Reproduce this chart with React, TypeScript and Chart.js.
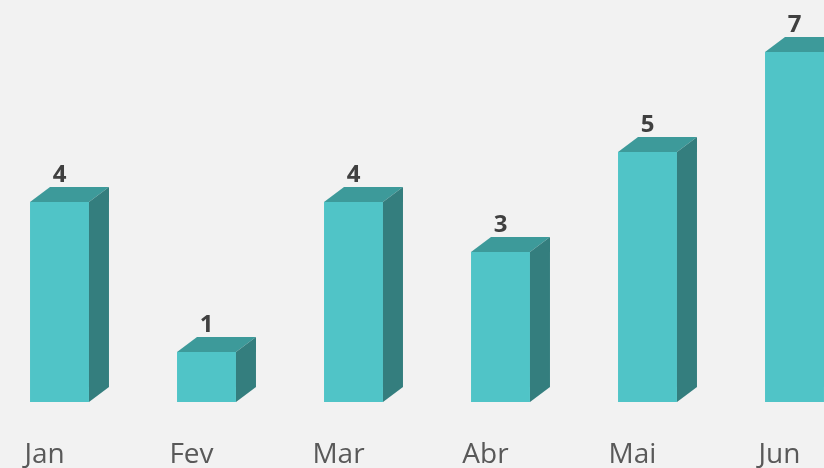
import React, { useEffect, useRef } from "react";
import { Chart, registerables } from "chart.js";

Chart.register(...registerables);

const categories = ["Jan", "Fev", "Mar", "Abr", "Mai", "Jun"];
const values = [4, 1, 4, 3, 5, 7];

const FRONT = "#50c4c7";
const TOP = "#3d9a9a";
const SIDE = "#347e7e";
const DX = 20;
const DY = 15;

const bars3d = {
  id: "bars3d",
  afterDatasetsDraw(chart: any) {
    const ctx = chart.ctx;
    const meta = chart.getDatasetMeta(0);
    ctx.save();
    meta.data.forEach((el: any, i: number) => {
      const { x, y, base, width } = el.getProps(["x", "y", "base", "width"], true);
      const l = x - width / 2;
      const r = x + width / 2;
      // top face
      ctx.fillStyle = TOP;
      ctx.beginPath();
      ctx.moveTo(l, y);
      ctx.lineTo(l + DX, y - DY);
      ctx.lineTo(r + DX, y - DY);
      ctx.lineTo(r, y);
      ctx.closePath();
      ctx.fill();
      // side face
      ctx.fillStyle = SIDE;
      ctx.beginPath();
      ctx.moveTo(r, y);
      ctx.lineTo(r + DX, y - DY);
      ctx.lineTo(r + DX, base - DY);
      ctx.lineTo(r, base);
      ctx.closePath();
      ctx.fill();
      // label
      ctx.fillStyle = "#404040";
      ctx.font = "bold 24px 'Open Sans'";
      ctx.textAlign = "center";
      ctx.textBaseline = "alphabetic";
      ctx.fillText(String(values[i]), x, y - DY - 5);
    });
    ctx.restore();
  },
};

export default function App() {
  const ref = useRef<HTMLCanvasElement>(null);
  useEffect(() => {
    if (!ref.current) return;
    const chart = new Chart(ref.current, {
      type: "bar",
      data: {
        labels: categories,
        datasets: [
          {
            data: values,
            backgroundColor: FRONT,
            borderWidth: 0,
            categoryPercentage: 1,
            barPercentage: 0.401,
          },
        ],
      },
      options: {
        animation: false,
        responsive: false,
        devicePixelRatio: 1,
        layout: { padding: { left: 26, right: 52, top: 2, bottom: 0 } },
        plugins: { legend: { display: false }, tooltip: { enabled: false } },
        scales: {
          x: {
            grid: { display: false, drawTicks: false },
            border: { display: false },
            ticks: {
              color: "#595959",
              font: { family: "'Open Sans'", size: 28 },
              labelOffset: -15,
              padding: 36,
            },
            afterFit: (s: any) => {
              s.height = 66;
            },
          },
          y: {
            display: false,
            min: 0,
            max: 8,
          },
        },
      },
      plugins: [bars3d],
    });
    return () => chart.destroy();
  }, []);
  return (
    <div
      style={{
        position: "fixed",
        left: 0,
        top: 0,
        width: 824,
        height: 468,
        overflow: "hidden",
        background: "#f2f2f2",
      }}
    >
      <canvas
        ref={ref}
        width={960}
        height={468}
        style={{ position: "absolute", left: -40, top: 0, width: 960, height: 468 }}
      />
    </div>
  );
}
